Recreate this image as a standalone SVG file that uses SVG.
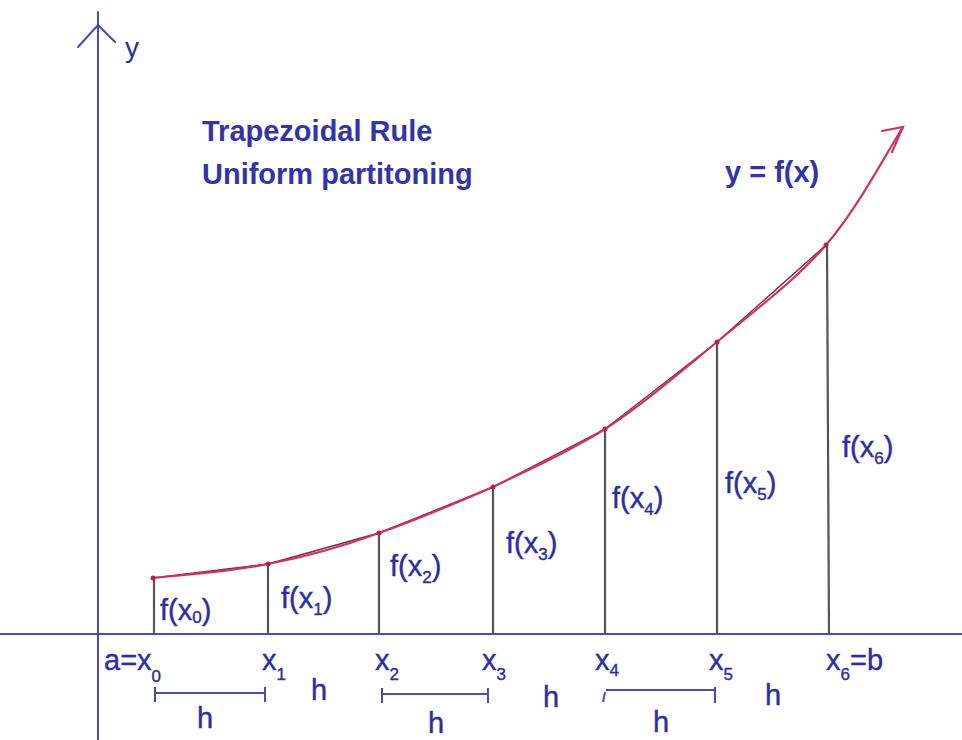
<svg xmlns="http://www.w3.org/2000/svg" width="962" height="740" viewBox="0 0 962 740">
<style>
.bg{fill:#ffffff}
.axis{stroke:#4a4ab0;stroke-width:2;fill:none;stroke-linecap:round}
.ord{stroke:#555555;stroke-width:2.2;fill:none}
.curve{stroke:#cc3362;stroke-width:2.2;fill:none;stroke-linecap:round}
.chord{stroke:#7a2a44;stroke-width:1.4;fill:none}
.dot{fill:#b8204a}
.t{font-family:"Liberation Sans",Arial,sans-serif;fill:#2e2e9e}
.title{font-size:29px;font-weight:bold;fill:#3434a6}
.hw{font-size:29px;stroke:#2e2e9e;stroke-width:0.4}
.sub{font-size:17px}
.br{stroke:#4a4ab0;stroke-width:2;fill:none}
</style>
<rect class="bg" x="0" y="0" width="962" height="740"/>

<g id="axes">
  <line class="axis" x1="98" y1="12" x2="98" y2="740"/>
  <polyline class="axis" points="78,47 98,25 115,42"/>
  <line class="axis" x1="0" y1="634" x2="962" y2="634"/>
  <text class="t" x="125" y="57" font-size="28">y</text>
</g>

<g id="title">
  <text class="t title" x="202" y="141">Trapezoidal Rule</text>
  <text class="t title" x="202" y="184">Uniform partitoning</text>
</g>

<g id="ordinates">
  <line class="ord" x1="154" y1="578" x2="154" y2="634"/>
  <line class="ord" x1="268" y1="564" x2="268" y2="634"/>
  <line class="ord" x1="379" y1="533" x2="379" y2="634"/>
  <line class="ord" x1="493" y1="487" x2="493" y2="634"/>
  <line class="ord" x1="605" y1="429" x2="605" y2="634"/>
  <line class="ord" x1="717" y1="342" x2="717" y2="634"/>
  <line class="ord" x1="827" y1="245" x2="829" y2="634"/>
</g>

<g id="connectors">
  <polyline class="chord" points="153,578 268,564 379,533 493,487 605,429 717,342 826,245"/>
  <path class="curve" d="M152,578 C171,576 229,572 268,564 C305,557 341,547 379,533 C416,520 454,504 493,487 C530,469 567,453 605,429 C642,405 679,373 717,342 C754,311 796,280 826,245 C858,208 888,150 903,127"/>
  <polyline class="curve" points="882,131 903,127 892,152"/>
  <circle class="dot" cx="153" cy="578" r="2.5"/>
  <circle class="dot" cx="268" cy="564" r="2.5"/>
  <circle class="dot" cx="379" cy="533" r="2.5"/>
  <circle class="dot" cx="493" cy="487" r="2.5"/>
  <circle class="dot" cx="605" cy="429" r="2.5"/>
  <circle class="dot" cx="717" cy="342" r="2.5"/>
  <circle class="dot" cx="826" cy="245" r="2.5"/>
</g>

<g id="curve-label">
  <text class="t title" x="725" y="182">y = f(x)</text>
</g>

<g id="f-labels">
  <text class="t hw" x="160" y="620">f(x<tspan class="sub" dy="3">0</tspan><tspan dy="-3">)</tspan></text>
  <text class="t hw" x="281" y="608">f(x<tspan class="sub" dy="7">1</tspan><tspan dy="-7">)</tspan></text>
  <text class="t hw" x="390" y="576">f(x<tspan class="sub" dy="7">2</tspan><tspan dy="-7">)</tspan></text>
  <text class="t hw" x="506" y="553">f(x<tspan class="sub" dy="7">3</tspan><tspan dy="-7">)</tspan></text>
  <text class="t hw" x="612" y="508">f(x<tspan class="sub" dy="7">4</tspan><tspan dy="-7">)</tspan></text>
  <text class="t hw" x="725" y="493">f(x<tspan class="sub" dy="7">5</tspan><tspan dy="-7">)</tspan></text>
  <text class="t hw" x="842" y="457">f(x<tspan class="sub" dy="7">6</tspan><tspan dy="-7">)</tspan></text>
</g>

<g id="x-labels">
  <text class="t hw" x="104" y="670">a=x<tspan class="sub" dy="12">0</tspan></text>
  <text class="t hw" x="262" y="670">x<tspan class="sub" dy="10">1</tspan></text>
  <text class="t hw" x="375" y="670">x<tspan class="sub" dy="10">2</tspan></text>
  <text class="t hw" x="482" y="670">x<tspan class="sub" dy="10">3</tspan></text>
  <text class="t hw" x="595" y="670">x<tspan class="sub" dy="6">4</tspan></text>
  <text class="t hw" x="709" y="670">x<tspan class="sub" dy="10">5</tspan></text>
  <text class="t hw" x="826" y="670">x<tspan class="sub" dy="10">6</tspan><tspan dy="-10">=b</tspan></text>
</g>

<g id="h-intervals">
  <line class="br" x1="155" y1="693" x2="265" y2="693"/>
  <line class="br" x1="155" y1="687" x2="155" y2="702"/>
  <line class="br" x1="265" y1="687" x2="265" y2="702"/>
  <text class="t hw" x="197" y="728">h</text>
  <text class="t hw" x="311" y="700">h</text>

  <line class="br" x1="382" y1="694" x2="488" y2="694"/>
  <line class="br" x1="382" y1="688" x2="382" y2="703"/>
  <line class="br" x1="488" y1="688" x2="488" y2="703"/>
  <text class="t hw" x="428" y="733">h</text>
  <text class="t hw" x="543" y="707">h</text>

  <line class="br" x1="606" y1="690" x2="715" y2="690"/>
  <line class="br" x1="605" y1="692" x2="603" y2="702"/>
  <line class="br" x1="715" y1="687" x2="715" y2="703"/>
  <text class="t hw" x="653" y="732">h</text>
  <text class="t hw" x="765" y="705">h</text>
</g>
</svg>
